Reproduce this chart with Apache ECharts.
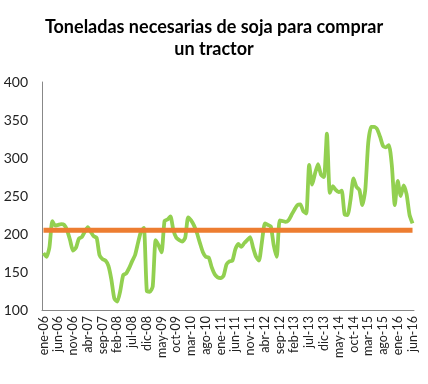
<!DOCTYPE html>
<html><head><meta charset="utf-8">
<script src="https://cdn.jsdelivr.net/npm/echarts@6/dist/echarts.min.js"></script>
<style>html,body{margin:0;padding:0;background:#fff}#c{width:428px;height:384px}</style>
</head><body><div id="c"></div>
<script>
const monthNames = ['ene','feb','mar','abr','may','jun','jul','ago','sep','oct','nov','dic'];
const categories = [];
for (let y = 2006; y <= 2016; y++) {
  for (let m = 0; m < 12; m++) {
    if (y === 2016 && m > 5) break;
    categories.push(monthNames[m] + '-' + String(y).slice(2));
  }
}
const toneladas = [
  175,170,182,217,211,212,213,212,205,192,178,182,
  194,196,203,209,203,197,195,172,167,165,158,140,
  115,111,125,146,148,155,164,172,188,203,208,125,
  124,131,192,185,176,217,219,223,205,195,192,190,
  195,222,218,211,201,188,176,170,169,156,147,143,
  142,145,160,164,165,180,187,183,188,192,196,182,
  170,165,190,214,212,210,185,170,218,217,216,218,
  225,232,238,239,230,227,291,265,280,292,278,275,
  332,254,263,258,255,257,226,225,245,273,262,258,
  238,258,320,341,341,338,328,316,314,317,290,238,
  270,250,264,252,225,214
];
const referencia = categories.map(() => 205);
const yTicks = [100,150,200,250,300,350,400];

const chart = echarts.init(document.getElementById('c'));
chart.setOption({
  animation: false,
  title: {
    text: 'Toneladas necesarias de soja para comprar\nun tractor',
    left: 'center', top: 11,
    textStyle: { fontFamily: 'Lato', fontWeight: 'bold', fontSize: 18, color: '#000', lineHeight: 22 }
  },
  grid: { left: 42, right: 14, top: 82, bottom: 74 },
  xAxis: {
    type: 'category', data: categories, boundaryGap: true,
    axisLine: { lineStyle: { color: '#888', width: 1 } },
    axisTick: { show: false },
    axisLabel: { interval: 4, rotate: 90, fontFamily: 'Lato', fontSize: 12.5, color: '#222', margin: 6 }
  },
  yAxis: {
    type: 'value', min: yTicks[0], max: yTicks[yTicks.length-1], interval: 50,
    axisLine: { show: true, lineStyle: { color: '#888', width: 1 } },
    axisTick: { show: false },
    splitLine: { show: false },
    axisLabel: { fontFamily: 'Lato', fontSize: 14, color: '#222', margin: 14 }
  },
  series: [
    { type: 'line', data: toneladas, symbol: 'none', smooth: 0.2,
      lineStyle: { color: '#92D050', width: 3.8 }, z: 2 },
    { type: 'line', data: referencia, symbol: 'none',
      lineStyle: { color: '#ED7D31', width: 5 }, z: 3 }
  ]
});
</script></body></html>
